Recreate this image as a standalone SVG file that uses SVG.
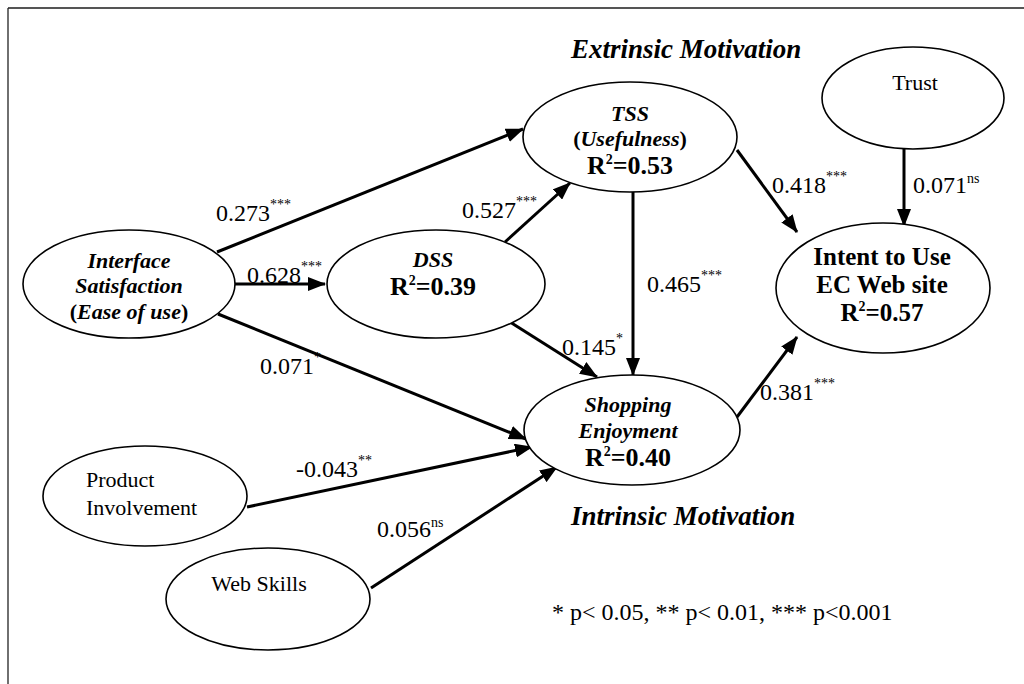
<svg xmlns="http://www.w3.org/2000/svg" width="1024" height="684" viewBox="0 0 1024 684">
  <style>
    .node { fill: #ffffff; stroke: #000000; stroke-width: 1.6; }
    .edge { fill: none; stroke: #000000; stroke-width: 3; marker-end: url(#arrow); }
    .t { font-family: "Liberation Serif", "Times New Roman", serif; fill: #000000; }
    .bi { font-weight: bold; font-style: italic; font-size: 22px; }
    .b { font-weight: bold; font-size: 26px; }
    .bt { font-weight: bold; font-size: 25px; }
    .r { font-size: 22px; }
    .lab { font-size: 24px; }
    .sup { font-size: 14px; }
    .sq { font-size: 14px; }
    .head { font-weight: bold; font-style: italic; font-size: 27px; }
    .up { font-style: normal; }
  </style>
  <defs>
    <marker id="arrow" viewBox="0 0 18 14" refX="17" refY="7" markerWidth="18" markerHeight="14" markerUnits="userSpaceOnUse" orient="auto">
      <path d="M0,0 L18,7 L0,14 Z" fill="#000000"/>
    </marker>
  </defs>

  <rect width="1024" height="684" fill="#ffffff"/>

  <!-- page frame -->
  <g id="frame">
    <line x1="8" y1="8" x2="1024" y2="8" stroke="#555555" stroke-width="2"/>
    <line x1="8" y1="8" x2="8" y2="684" stroke="#222222" stroke-width="1.3"/>
  </g>

  <!-- paths between constructs -->
  <g id="connectors">
    <path class="edge" d="M217,252 L523,129"/>
    <path class="edge" d="M235,284 L325,284"/>
    <path class="edge" d="M218,314 L526,439"/>
    <path class="edge" d="M505,242 L570,183"/>
    <path class="edge" d="M510,322 L597,377"/>
    <path class="edge" d="M633,192 L633,375"/>
    <path class="edge" d="M737,150 L797,232"/>
    <path class="edge" d="M904,149 L904,226"/>
    <path class="edge" d="M737,417 L797,337"/>
    <path class="edge" d="M247,507 L532,447"/>
    <path class="edge" d="M371,588 L557,467"/>
  </g>

  <!-- path coefficients -->
  <g id="coefficients" class="t lab">
    <text x="216" y="221">0.273<tspan class="sup" dy="-12">***</tspan></text>
    <text x="247" y="283">0.628<tspan class="sup" dy="-12">***</tspan></text>
    <text x="260" y="374">0.071<tspan class="sup" dy="-12">*</tspan></text>
    <text x="462" y="218">0.527<tspan class="sup" dy="-12">***</tspan></text>
    <text x="562" y="355">0.145<tspan class="sup" dy="-12">*</tspan></text>
    <text x="647" y="292">0.465<tspan class="sup" dy="-12">***</tspan></text>
    <text x="772" y="193">0.418<tspan class="sup" dy="-12">***</tspan></text>
    <text x="913" y="193">0.071<tspan class="sup" dy="-10">ns</tspan></text>
    <text x="760" y="400">0.381<tspan class="sup" dy="-12">***</tspan></text>
    <text x="296" y="477">-0.043<tspan class="sup" dy="-12">**</tspan></text>
    <text x="377" y="537">0.056<tspan class="sup" dy="-10">ns</tspan></text>
  </g>

  <g id="interface-satisfaction">
    <ellipse class="node" cx="129" cy="284" rx="106" ry="54"/>
    <text class="t bi" text-anchor="middle" x="129" y="268">Interface</text>
    <text class="t bi" text-anchor="middle" x="129" y="293">Satisfaction</text>
    <text class="t bi" text-anchor="middle" x="129" y="319"><tspan class="up">(</tspan>Ease of use<tspan class="up">)</tspan></text>
  </g>

  <g id="dss">
    <ellipse class="node" cx="436" cy="284" rx="109" ry="54"/>
    <text class="t bi" text-anchor="middle" x="433" y="267">DSS</text>
    <text class="t b" text-anchor="middle" x="433" y="295">R<tspan class="sq" dy="-10">2</tspan><tspan dy="10">=0.39</tspan></text>
  </g>

  <g id="tss">
    <ellipse class="node" cx="630" cy="137" rx="107" ry="55"/>
    <text class="t bi" text-anchor="middle" x="630" y="121">TSS</text>
    <text class="t bi" text-anchor="middle" x="630" y="146"><tspan class="up">(</tspan>Usefulness<tspan class="up">)</tspan></text>
    <text class="t b" text-anchor="middle" x="630" y="174">R<tspan class="sq" dy="-10">2</tspan><tspan dy="10">=0.53</tspan></text>
  </g>

  <g id="shopping-enjoyment">
    <ellipse class="node" cx="632" cy="430" rx="108" ry="55"/>
    <text class="t bi" text-anchor="middle" x="628" y="412">Shopping</text>
    <text class="t bi" text-anchor="middle" x="628" y="438">Enjoyment</text>
    <text class="t b" text-anchor="middle" x="628" y="466">R<tspan class="sq" dy="-10">2</tspan><tspan dy="10">=0.40</tspan></text>
  </g>

  <g id="intent-to-use">
    <ellipse class="node" cx="883" cy="288" rx="107" ry="65"/>
    <text class="t bt" text-anchor="middle" x="882" y="265">Intent to Use</text>
    <text class="t bt" text-anchor="middle" x="882" y="293">EC Web site</text>
    <text class="t bt" text-anchor="middle" x="882" y="321">R<tspan class="sq" dy="-10">2</tspan><tspan dy="10">=0.57</tspan></text>
  </g>

  <g id="trust">
    <ellipse class="node" cx="913" cy="98" rx="91" ry="51"/>
    <text class="t r" text-anchor="middle" x="915" y="90">Trust</text>
  </g>

  <g id="product-involvement">
    <ellipse class="node" cx="145" cy="496" rx="102" ry="50"/>
    <text class="t r" x="86" y="487">Product</text>
    <text class="t r" x="86" y="515">Involvement</text>
  </g>

  <g id="web-skills">
    <ellipse class="node" cx="268" cy="599" rx="102" ry="51"/>
    <text class="t r" text-anchor="middle" x="259" y="591">Web Skills</text>
  </g>

  <!-- group headings and significance key -->
  <g id="annotations">
    <text class="t head" x="571" y="58">Extrinsic Motivation</text>
    <text class="t head" x="571" y="525">Intrinsic Motivation</text>
    <text class="t lab" x="552" y="620">* p&lt; 0.05, ** p&lt; 0.01, *** p&lt;0.001</text>
  </g>
</svg>
